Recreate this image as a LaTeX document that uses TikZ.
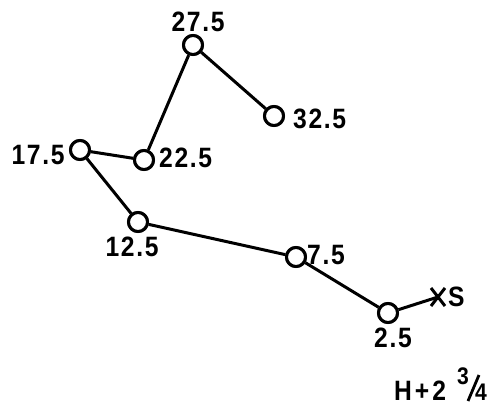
\documentclass[tikz,border=0pt]{standalone}
\usepackage{fontspec}
\setmainfont{Liberation Sans}
\newfontfamily\lblfont[LetterSpace=6,FakeStretch=0.88]{Liberation Sans}
\usetikzlibrary{shapes.misc}
\begin{document}
\begin{tikzpicture}[x=1pt,y=-1pt,
  pt/.style={circle,draw,line width=3pt,minimum size=19pt,inner sep=0pt,fill=white},
  lbl/.style={font=\lblfont\fontsize{28}{28}\selectfont\bfseries,inner sep=0pt},
  small/.style={font=\lblfont\fontsize{24}{24}\selectfont\bfseries,inner sep=0pt},
  link/.style={line width=3pt}]
\useasboundingbox (0,0) rectangle (500,412);
\node[pt] (p275) at (193,45) {};
\node[pt] (p325) at (274,116) {};
\node[pt] (p175) at (80,150) {};
\node[pt] (p225) at (144,160) {};
\node[pt] (p125) at (138,222) {};
\node[pt] (p75) at (296,257) {};
\node[pt] (p25) at (388,313) {};
\node[cross out,draw,line width=3pt,minimum width=11pt,minimum height=15pt,inner sep=0pt] (xs) at (438,297) {};
\draw[link] (p325) -- (p275) -- (p225) -- (p175) -- (p125) -- (p75) -- (p25) -- (xs.center);
\foreach \c in {{193,45},{274,116},{80,150},{144,160},{138,222},{296,257},{388,313}}
  \node[pt] at (\c) {};
\node[lbl] (l275) at (198,22) {27.5};
\node[lbl,anchor=west] (l325) at (293,119) {32.5};
\node[lbl] (l175) at (38,155) {17.5};
\node[lbl,anchor=west] (l225) at (159,158) {22.5};
\node[lbl] (l125) at (132,247) {12.5};
\node[lbl,anchor=west] (l75) at (307,255) {7.5};
\node[lbl] (l25) at (393,338) {2.5};
\node[lbl,anchor=west] (ls) at (448,297) {S};
\node[lbl,anchor=west] (h) at (394,391) {H\kern3pt+\kern3pt2};
\node[small] (three) at (463,376) {3};
\node[small] (four) at (481,392) {4};
\draw[line width=2.8pt] (468,401) -- (479,375);
\end{tikzpicture}
\end{document}
